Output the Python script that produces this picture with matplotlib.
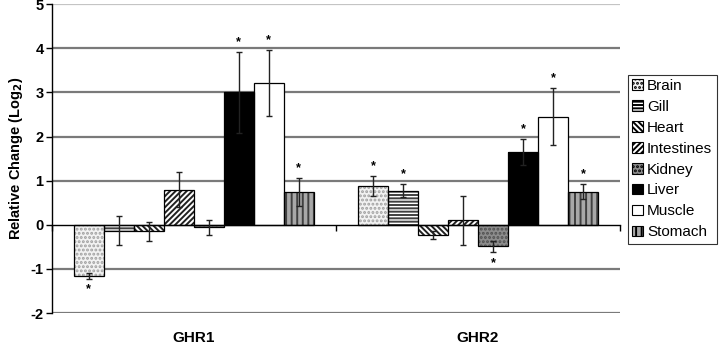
import numpy as np
import matplotlib
matplotlib.use('Agg')
import matplotlib.pyplot as plt
from matplotlib.patches import Patch

plt.rcParams['font.family'] = ['Liberation Sans', 'DejaVu Sans']
plt.rcParams['font.weight'] = 'bold'
plt.rcParams['hatch.linewidth'] = 1.4
plt.rcParams['axes.unicode_minus'] = False

genes = ['GHR1', 'GHR2']
tissues = ['Brain', 'Gill', 'Heart', 'Intestines', 'Kidney', 'Liver', 'Muscle', 'Stomach']

# relative change (log2), per tissue: [GHR1, GHR2]
values = {
    'Brain':      [-1.15, 0.88],
    'Gill':       [-0.13, 0.77],
    'Heart':      [-0.15, -0.23],
    'Intestines': [0.80, 0.10],
    'Kidney':     [-0.05, -0.49],
    'Liver':      [3.00, 1.65],
    'Muscle':     [3.22, 2.45],
    'Stomach':    [0.75, 0.75],
}
errors = {
    'Brain':      [0.07, 0.22],
    'Gill':       [0.32, 0.15],
    'Heart':      [0.22, 0.10],
    'Intestines': [0.40, 0.55],
    'Kidney':     [0.17, 0.13],
    'Liver':      [0.92, 0.30],
    'Muscle':     [0.75, 0.65],
    'Stomach':    [0.32, 0.17],
}
# significance stars
signif = {
    'Brain':      [True, True],
    'Gill':       [False, True],
    'Heart':      [False, False],
    'Intestines': [False, False],
    'Kidney':     [False, True],
    'Liver':      [True, True],
    'Muscle':     [True, True],
    'Stomach':    [True, True],
}

# face colour, hatch, hatch colour
styles = {
    'Brain':      ('#f2f2f2', '....', '#a0a0a0'),
    'Gill':       ('white', '-----', '#404040'),
    'Heart':      ('white', '\\\\\\\\\\\\', '#202020'),
    'Intestines': ('white', '//////', '#202020'),
    'Kidney':     ('#8c8c8c', '....', '#505050'),
    'Liver':      ('black', '', 'black'),
    'Muscle':     ('white', '', 'white'),
    'Stomach':    ('#a8a8a8', '|||', '#404040'),
}

fig = plt.figure(figsize=(7.2, 3.46), dpi=100)
ax = fig.add_axes([0.072, 0.095, 0.789, 0.893])

group_w = 0.845
w = group_w / len(tissues)
x = np.arange(len(genes))

for yv in [-2, -1, 1, 2, 3, 4]:
    ax.axhline(yv, color='#7a7a7a', lw=1.6, zorder=0)
ax.axhline(5, color='#c4c4c4', lw=1.6, zorder=0)

for i, t in enumerate(tissues):
    fc, hatch, hc = styles[t]
    pos = x - group_w / 2 + w * (i + 0.5)
    ax.bar(pos, values[t], w, color=fc, hatch=hatch, edgecolor=hc, lw=0, zorder=2)
    ax.bar(pos, values[t], w, fill=False, edgecolor='black', lw=0.9, zorder=3)
    ax.errorbar(pos, values[t], yerr=errors[t], fmt='none', ecolor='#222222',
                elinewidth=1.0, capsize=2.5, capthick=1.0, zorder=4)
    for p, v, e, s in zip(pos, values[t], errors[t], signif[t]):
        if s:
            ys = v + e + 0.22 if v >= 0 else v - e - 0.24
            ax.text(p, ys, '*', ha='center', va='center', fontsize=9, zorder=5)

ax.set_xlim(-0.5, 1.5)
ax.set_ylim(-2, 5)
ax.set_yticks(range(-2, 6))
ax.tick_params(axis='y', labelsize=10.5, length=4, width=1, pad=2)
for lab in ax.get_yticklabels():
    lab.set_fontweight('bold')

ax.spines['top'].set_visible(False)
ax.spines['right'].set_visible(False)
ax.spines['bottom'].set_position(('data', 0))
ax.spines['bottom'].set_linewidth(1.0)
ax.spines['left'].set_linewidth(1.0)
ax.set_xticks([-0.5, 0.5, 1.5])
ax.set_xticklabels([])
ax.tick_params(axis='x', length=4, width=1, direction='out')

for xi, g in zip(x, genes):
    ax.text(xi, -2.56, g, ha='center', va='center', fontsize=11, fontweight='bold',
            clip_on=False)

ax.set_ylabel('Relative Change (Log$_2$)', fontsize=10.5, fontweight='bold', labelpad=4)

handles = []
for t in tissues:
    fc, hatch, hc = styles[t]
    handles.append(Patch(facecolor=fc, hatch=hatch, edgecolor='black', lw=0.8))
leg = fig.legend(handles, tissues, loc='center left', bbox_to_anchor=(0.872, 0.54),
                 fontsize=11, frameon=True, fancybox=False, edgecolor='black',
                 handlelength=0.7, handleheight=0.7, handletextpad=0.25,
                 labelspacing=0.45, borderpad=0.3, borderaxespad=0)
leg.get_frame().set_linewidth(0.8)
for txt in leg.get_texts():
    txt.set_fontweight('normal')

fig.savefig('out.png', dpi=100)
